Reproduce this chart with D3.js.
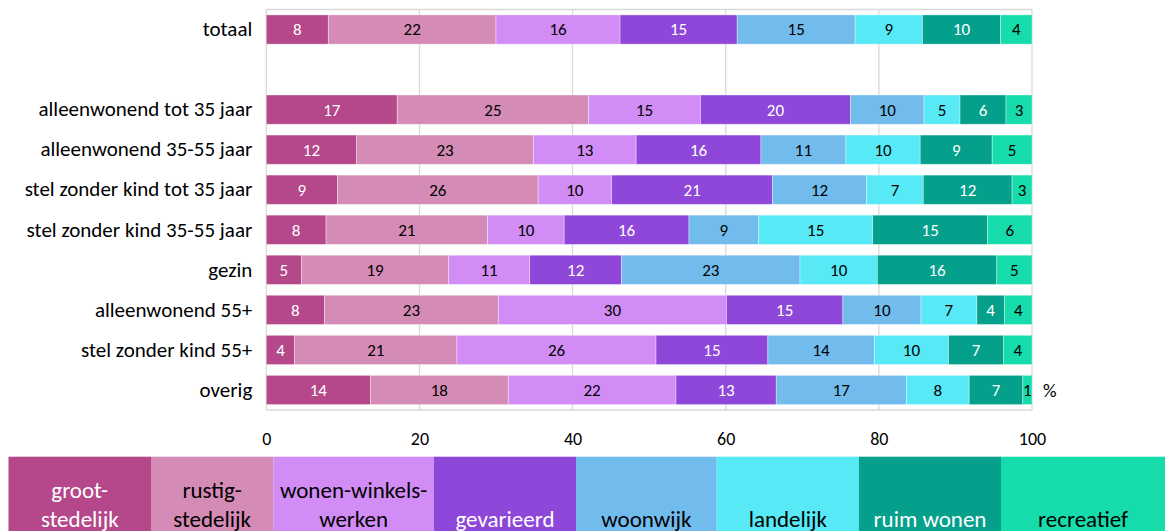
<!DOCTYPE html>
<html>
<head>
<meta charset="utf-8">
<script src="https://cdn.jsdelivr.net/npm/d3@7"></script>
<style>
  html, body { margin: 0; padding: 0; background: #fff; }
  svg { display: block; font-family: Carlito, Lato, sans-serif; }
</style>
</head>
<body>
<svg id="chart" width="1165" height="531"></svg>
<script>
// Household types (rows, top to bottom)
const categories = [
  "totaal",
  "alleenwonend tot 35 jaar",
  "alleenwonend 35-55 jaar",
  "stel zonder kind tot 35 jaar",
  "stel zonder kind 35-55 jaar",
  "gezin",
  "alleenwonend 55+",
  "stel zonder kind 55+",
  "overig"
];

// Living environment types (stack order, left to right)
const seriesKeys = ["grootstedelijk", "rustigstedelijk", "wonenwinkelswerken", "gevarieerd",
                    "woonwijk", "landelijk", "ruimwonen", "recreatief"];
const seriesLabels = [
  ["groot-", "stedelijk"],
  ["rustig-", "stedelijk"],
  ["wonen-winkels-", "werken"],
  ["gevarieerd"],
  ["woonwijk"],
  ["landelijk"],
  ["ruim wonen"],
  ["recreatief"]
];

// Share per household type, percent
const grootstedelijk     = [8.1, 17.1, 11.8, 9.3, 7.8, 4.6, 7.6, 3.7, 13.6];
const rustigstedelijk    = [21.9, 25.0, 23.1, 26.2, 21.1, 19.2, 22.7, 21.2, 18.0];
const wonenwinkelswerken = [16.2, 14.6, 13.4, 9.6, 10.0, 10.6, 29.8, 26.0, 21.9];
const gevarieerd         = [15.3, 19.6, 16.3, 21.0, 16.3, 12.0, 15.2, 14.6, 13.1];
const woonwijk           = [15.4, 9.6, 11.1, 12.3, 9.1, 23.3, 10.2, 13.9, 17.0];
const landelijk          = [8.8, 4.7, 9.7, 7.4, 14.9, 10.1, 7.3, 9.7, 8.2];
const ruimwonen          = [10.2, 6.0, 9.4, 11.6, 15.0, 15.6, 3.6, 7.2, 7.0];
const recreatief         = [4.1, 3.4, 5.2, 2.6, 5.8, 4.6, 3.6, 3.7, 1.2];

const xTicks = [0, 20, 40, 60, 80, 100];

// Styling
const colors = ["#b4488a", "#d48bb5", "#d18cf5", "#8e47d8", "#71bcec", "#57e9f6", "#04a08b", "#15dcaa"];
const labelColors = ["#fff", "#000", "#000", "#fff", "#000", "#000", "#fff", "#000"];
const legendEdges = [8.5, 151, 273.3, 434, 576, 716.7, 859, 1001, 1165];

const seriesValues = [grootstedelijk, rustigstedelijk, wonenwinkelswerken, gevarieerd,
                      woonwijk, landelijk, ruimwonen, recreatief];

// Rows table built from the arrays
const rows = categories.map((c, i) => {
  const r = { category: c };
  seriesKeys.forEach((k, j) => { r[k] = seriesValues[j][i]; });
  return r;
});

const SPACER = "__spacer__";
const yDomain = [categories[0], SPACER, ...categories.slice(1)];

const svg = d3.select("#chart");

const x = d3.scaleLinear().domain([0, 100]).range([266.3, 1032]);
const y = d3.scaleBand().domain(yDomain).range([9.5, 410]).paddingInner(0.27).paddingOuter(0.135);

const gridColor = "#d9d9d9";

// Gridlines
svg.append("g")
  .selectAll("line")
  .data(xTicks)
  .join("line")
  .attr("x1", d => x(d)).attr("x2", d => x(d))
  .attr("y1", 9.5).attr("y2", 410)
  .attr("stroke", gridColor).attr("stroke-width", 1.3);

// Plot frame top/bottom
svg.append("line").attr("x1", x(0)).attr("x2", x(100)).attr("y1", 9.5).attr("y2", 9.5)
  .attr("stroke", gridColor).attr("stroke-width", 1.3);
svg.append("line").attr("x1", x(0)).attr("x2", x(100)).attr("y1", 410).attr("y2", 410)
  .attr("stroke", gridColor).attr("stroke-width", 1.3);

// Stacked bars
const stacked = d3.stack().keys(seriesKeys)(rows);

const layers = svg.append("g")
  .selectAll("g")
  .data(stacked)
  .join("g")
  .attr("fill", (d, i) => colors[i]);

layers.selectAll("rect")
  .data(d => d.map(s => ({ s, key: d.key })))
  .join("rect")
  .attr("x", d => x(d.s[0]))
  .attr("y", d => y(d.s.data.category))
  .attr("width", d => x(d.s[1]) - x(d.s[0]))
  .attr("height", y.bandwidth())
  .attr("stroke", "#fff")
  .attr("stroke-opacity", 0.45)
  .attr("stroke-width", 0.8);

// Value labels
const fmt = d3.format(".0f");
layers.each(function(d, i) {
  d3.select(this).selectAll("text")
    .data(d)
    .join("text")
    .attr("x", s => (x(s[0]) + x(s[1])) / 2)
    .attr("y", s => y(s.data.category) + y.bandwidth() / 2)
    .attr("dy", "0.35em")
    .attr("text-anchor", "middle")
    .attr("font-size", 17)
    .attr("fill", labelColors[i])
    .text(s => fmt(s[1] - s[0]));
});

// Category axis
const yAxis = d3.axisLeft(y).tickSize(0).tickPadding(14)
  .tickFormat(d => d === SPACER ? "" : d);
const yg = svg.append("g").attr("transform", `translate(${x(0)},0)`).call(yAxis);
yg.select(".domain").remove();
yg.selectAll("text").attr("font-size", 21).attr("fill", "#000")
  .attr("font-family", "Carlito, Lato, sans-serif");

// Value axis
const xAxis = d3.axisBottom(x).tickValues(xTicks).tickSize(0).tickPadding(22).tickFormat(d3.format("d"));
const xg = svg.append("g").attr("transform", "translate(0,410)").call(xAxis);
xg.select(".domain").remove();
xg.selectAll("text").attr("font-size", 18).attr("fill", "#000")
  .attr("font-family", "Carlito, Lato, sans-serif");

// Unit marker
svg.append("text")
  .attr("x", x(100) + 11)
  .attr("y", y(categories[categories.length - 1]) + y.bandwidth() / 2)
  .attr("dy", "0.35em")
  .attr("font-size", 19)
  .text("%");

// Legend strip
const legend = svg.append("g")
  .selectAll("g")
  .data(seriesKeys)
  .join("g");

legend.append("rect")
  .attr("x", (d, i) => legendEdges[i])
  .attr("y", 456.7)
  .attr("width", (d, i) => legendEdges[i + 1] - legendEdges[i])
  .attr("height", 80)
  .attr("fill", (d, i) => colors[i]);

legend.each(function(d, i) {
  const lines = seriesLabels[i];
  const cx = (legendEdges[i] + legendEdges[i + 1]) / 2;
  d3.select(this).selectAll("text")
    .data(lines)
    .join("text")
    .attr("x", cx)
    .attr("y", (t, j) => 526.5 - (lines.length - 1 - j) * 29)
    .attr("text-anchor", "middle")
    .attr("font-size", 23)
    .attr("fill", labelColors[i])
    .text(t => t);
});
</script>
</body>
</html>
